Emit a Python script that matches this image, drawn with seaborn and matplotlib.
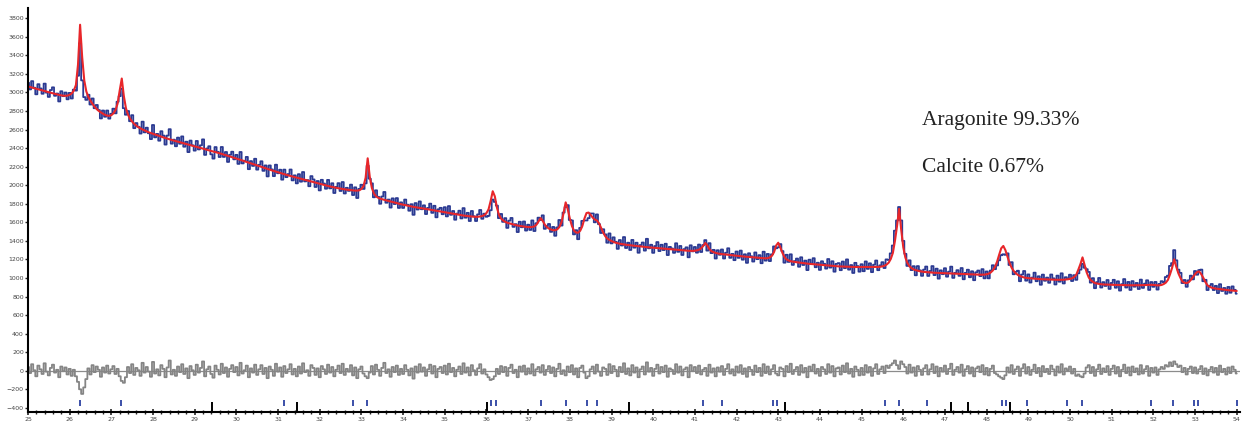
import numpy as np
import pandas as pd
import matplotlib
matplotlib.use("Agg")
import matplotlib.pyplot as plt
import seaborn as sns

# scan 25-54 deg 2theta, step 0.05
two_theta = np.round(np.linspace(25.0, 54.0, 581), 2)

# calculated (fitted) pattern (rows of 0.5 deg)
calc = [
    3065, 3058, 3052, 3046, 3040, 3034, 3028, 3021, 3015, 3008,
    3002, 2996, 2990, 2984, 2978, 2973, 2968, 2965, 2964, 2966,
    2975, 2990, 3020, 3080, 3300, 3730, 3380, 3130, 3010, 2950,
    2910, 2875, 2845, 2820, 2800, 2785, 2770, 2758, 2750, 2748,
    2755, 2775, 2810, 2880, 3020, 3150, 2960, 2830, 2760, 2715,
    2685, 2660, 2640, 2625, 2612, 2600, 2590, 2580, 2570, 2562,
    2554, 2546, 2538, 2530, 2522, 2515, 2508, 2500, 2494, 2488,
    2481, 2475, 2468, 2462, 2456, 2450, 2444, 2437, 2431, 2425,
    2418, 2412, 2406, 2400, 2394, 2387, 2381, 2375, 2368, 2362,
    2356, 2350, 2344, 2337, 2330, 2323, 2316, 2308, 2301, 2294,
    2287, 2280, 2273, 2265, 2258, 2250, 2243, 2235, 2228, 2220,
    2213, 2205, 2198, 2190, 2183, 2175, 2168, 2160, 2153, 2146,
    2139, 2132, 2125, 2118, 2112, 2105, 2099, 2092, 2086, 2080,
    2074, 2068, 2062, 2056, 2050, 2044, 2038, 2032, 2026, 2020,
    2014, 2008, 2003, 1997, 1992, 1986, 1981, 1976, 1972, 1967,
    1963, 1959, 1956, 1952, 1949, 1946, 1944, 1942, 1942, 1945,
    1960, 1990, 2080, 2290, 2090, 1970, 1910, 1880, 1865, 1855,
    1848, 1842, 1836, 1830, 1824, 1818, 1812, 1806, 1800, 1795,
    1790, 1785, 1780, 1775, 1770, 1766, 1762, 1758, 1755, 1751,
    1748, 1744, 1740, 1736, 1732, 1728, 1724, 1720, 1716, 1712,
    1708, 1704, 1700, 1696, 1692, 1688, 1684, 1680, 1677, 1673,
    1670, 1667, 1664, 1662, 1660, 1659, 1660, 1663, 1668, 1678,
    1700, 1740, 1830, 1935, 1880, 1760, 1680, 1640, 1620, 1605,
    1595, 1588, 1582, 1576, 1570, 1565, 1561, 1557, 1554, 1551,
    1549, 1548, 1550, 1556, 1575, 1610, 1645, 1615, 1575, 1548,
    1532, 1522, 1515, 1515, 1525, 1550, 1600, 1700, 1815, 1740,
    1640, 1560, 1510, 1490, 1488, 1510, 1560, 1640, 1700, 1705,
    1680, 1650, 1630, 1620, 1590, 1540, 1490, 1450, 1425, 1410,
    1398, 1388, 1380, 1374, 1369, 1365, 1361, 1358, 1355, 1352,
    1350, 1347, 1345, 1342, 1340, 1337, 1335, 1332, 1330, 1328,
    1326, 1324, 1322, 1320, 1318, 1316, 1314, 1312, 1310, 1308,
    1306, 1304, 1302, 1300, 1298, 1296, 1295, 1293, 1292, 1292,
    1294, 1298, 1305, 1320, 1345, 1378, 1350, 1310, 1288, 1278,
    1270, 1264, 1260, 1257, 1255, 1252, 1250, 1247, 1245, 1242,
    1240, 1237, 1235, 1232, 1230, 1228, 1226, 1224, 1222, 1220,
    1218, 1216, 1214, 1213, 1212, 1214, 1222, 1240, 1280, 1350,
    1380, 1330, 1270, 1225, 1200, 1188, 1180, 1176, 1172, 1169,
    1166, 1163, 1160, 1157, 1155, 1152, 1150, 1148, 1146, 1144,
    1142, 1140, 1138, 1136, 1134, 1132, 1130, 1128, 1127, 1125,
    1124, 1122, 1121, 1120, 1120, 1119, 1119, 1118, 1118, 1118,
    1118, 1118, 1118, 1118, 1118, 1118, 1118, 1118, 1119, 1121,
    1125, 1132, 1145, 1165, 1205, 1270, 1400, 1560, 1745, 1520,
    1330, 1220, 1160, 1125, 1105, 1092, 1084, 1078, 1072, 1068,
    1065, 1063, 1062, 1060, 1058, 1056, 1055, 1053, 1052, 1051,
    1050, 1049, 1048, 1047, 1046, 1045, 1044, 1043, 1042, 1041,
    1040, 1039, 1038, 1037, 1036, 1036, 1035, 1035, 1035, 1036,
    1040, 1046, 1060, 1082, 1120, 1175, 1250, 1320, 1345, 1300,
    1230, 1160, 1110, 1075, 1050, 1033, 1020, 1012, 1005, 1001,
    998, 996, 994, 992, 990, 988, 987, 986, 985, 984,
    983, 982, 981, 980, 980, 980, 980, 981, 983, 986,
    990, 997, 1010, 1035, 1090, 1150, 1222, 1140, 1060, 1005,
    975, 958, 945, 940, 935, 932, 930, 929, 928, 927,
    926, 925, 925, 924, 924, 923, 923, 922, 922, 921,
    921, 921, 921, 921, 922, 923, 924, 925, 926, 926,
    925, 922, 920, 921, 925, 935, 950, 980, 1040, 1110,
    1200, 1120, 1050, 1000, 960, 948, 945, 955, 980, 1010,
    1040, 1065, 1070, 1040, 1000, 955, 920, 905, 895, 890,
    885, 882, 878, 875, 872, 870, 868, 866, 864, 862,
    860,
]

# difference curve (obs - calc)
resid = [
    40, -25, 70, 5, -60, 55, 15, -35, 80, -10,
    -50, 30, 65, -20, 10, -70, 45, -5, 35, -40,
    20, -55, 10, -60, -120, -200, -250, -180, -90, 25,
    -40, 60, -15, 45, 10, -65, 35, -20, 55, -30,
    15, 50, -35, 20, -60, -110, -130, -70, 40, -25,
    70, -45, 30, 5, -55, 85, -20, 40, -10, -65,
    95, -30, 15, -50, 60, 20, -70, 35, 110, -40,
    10, -55, 45, -15, 70, -35, 25, -80, 50, 5,
    -45, 65, -20, 30, 100, -60, 15, 45, -35, -75,
    55, 10, -40, 75, -25, 35, -65, 20, 60, -15,
    40, -50, 85, -30, 5, 55, -70, 25, -20, 65,
    -45, 15, 60, -35, 30, -80, 45, 10, -55, 75,
    -10, 35, -65, 50, -25, 15, 70, -40, 20, -60,
    45, -30, 80, -15, 5, -55, 60, 30, -45, 25,
    -70, 50, 15, -35, 65, -20, 40, -60, 10, 55,
    -25, 75, -45, 20, -10, 60, -50, 35, -80, 15,
    45, -30, -60, -80, -20, 50, -40, 65, 10, -55,
    30, 85, -25, 15, -65, 40, -15, 55, -45, 20,
    -35, 60, 10, -50, 25, -85, 45, -20, 70, -10,
    35, -55, 15, 65, -30, 50, -70, 20, 40, -25,
    55, -40, 75, -15, 30, -60, 10, 45, -35, 80,
    -20, 35, -50, 60, 5, -45, 25, 70, -30, 15,
    -40, -70, -100, -90, -60, 20, -35, 50, -15, 40,
    -55, 30, 65, -25, 10, -70, 45, -10, 55, -40,
    25, -30, 70, -50, 15, 40, -20, 60, -45, 10,
    50, -25, 35, -60, 20, 75, -35, 5, -50, 45,
    -15, 60, -40, 25, -70, 30, 55, -20, -80, -60,
    15, 45, -30, 65, -10, -55, 35, 20, -45, 70,
    -25, 50, 10, -60, 40, -15, 80, -35, 25, -50,
    60, -20, 35, -70, 15, 45, -40, 90, -10, 30,
    -55, 20, 65, -30, 40, -15, 55, -65, 25, 10,
    -35, 70, -20, 45, -50, 15, 35, -70, 60, -5,
    40, -25, 55, -40, 10, 30, -55, 65, -20, 25,
    -60, 35, -10, 50, -45, 20, 70, -30, 15, -50,
    45, -20, 60, -35, 25, -65, 40, 10, -45, 55,
    -15, 30, -55, 70, -25, 45, -40, 15, 60, -30,
    -50, 35, 20, -60, 50, -15, 75, -35, 10, 40,
    -45, 60, -20, 30, -70, 45, 5, 65, -30, 20,
    -55, 40, 15, -35, 70, -20, 50, -60, 25, 35,
    -40, 55, -15, 80, -30, 20, -65, 45, 10, -50,
    30, -45, 60, -20, 40, -55, 25, 70, -35, 15,
    45, -25, 55, 30, 60, 80, 110, 60, 20, 100,
    70, 40, -30, 65, -20, 35, -55, 50, 10, -45,
    25, 60, -40, 15, 70, -25, 45, -60, 30, -10,
    55, -35, 20, 75, -45, 10, 40, -20, 65, -55,
    15, 50, -30, 35, -60, 25, 45, -15, 60, -40,
    30, -50, 20, 55, -25, -40, -60, -75, -90, -50,
    35, -20, 60, -35, 15, 45, -55, 25, 70, -30,
    40, -45, 10, 65, -25, 30, -60, 50, -15, 20,
    -35, 55, 15, -50, 45, -20, 70, -40, 25, 5,
    45, -30, 20, -55, -40, -60, -70, -30, 35, 60,
    -25, 40, -55, 15, 65, -35, 25, -15, 50, -45,
    20, 55, -30, 40, -60, 10, 65, -25, 35, -50,
    45, -15, 25, -40, 60, -30, 15, 50, -55, 30,
    -20, 35, -45, 15, 40, 20, 60, 45, 90, 50,
    100, 70, 40, 55, -15, 30, -40, 20, 45, -25,
    35, -30, 15, 50, -35, 25, -50, 10, 40, -20,
    30, -45, 55, -15, 20, -40, 35, -25, 45, 10,
    -30,
]

# reflection markers
aragonite_pos = [26.24, 27.23, 31.15, 32.79, 33.14, 36.12, 36.22, 37.30, 37.91,
                 38.41, 38.65, 41.19, 41.65, 42.87, 42.96, 45.56, 45.89, 46.57,
                 48.37, 48.47, 48.96, 49.93, 50.28, 51.94, 52.47, 52.98, 53.08, 54.00]
calcite_pos = [29.42, 31.46, 36.02, 39.43, 43.17, 47.15, 47.55, 48.55]

phase_labels = ["Aragonite 99.33%", "Calcite 0.67%"]

df = pd.DataFrame({"two_theta": two_theta, "calc": calc, "resid": resid})
df["obs"] = df["calc"] + df["resid"]

sns.set_style("white")
plt.rcParams["font.family"] = ["DejaVu Sans"]

fig = plt.figure(figsize=(12.44, 4.23), dpi=100)
ax = fig.add_axes([0.0225, 0.026, 0.974, 0.955])

sns.lineplot(data=df, x="two_theta", y="obs", ax=ax, color="#2b3a92",
             lw=1.3, drawstyle="steps-mid", estimator=None)
sns.lineplot(data=df, x="two_theta", y="calc", ax=ax, color="#e8262a",
             lw=1.5, estimator=None)
ax.axhline(0, color="#8c8c8c", lw=0.9)
sns.lineplot(data=df, x="two_theta", y="resid", ax=ax, color="#858585",
             lw=1.3, drawstyle="steps-mid", estimator=None)

ybot = -445
ax.vlines(aragonite_pos, -385, -320, color="#3b4fa8", lw=1.4)
ax.vlines(calcite_pos, ybot, -340, color="black", lw=1.4)

ax.text(46.45, 2700, phase_labels[0], family="Liberation Serif", fontsize=15.5,
        color="#222222", va="center")
ax.text(46.45, 2195, phase_labels[1], family="Liberation Serif", fontsize=15.5,
        color="#222222", va="center")

ax.set_xlim(25, 54.07)
ax.set_ylim(ybot, 3910)
ax.set_xticks(np.arange(25, 55, 1))
ax.set_xticks(np.arange(25, 54.01, 0.2), minor=True)
ax.set_yticks(np.arange(-400, 3801, 200))
ax.tick_params(axis="both", labelsize=4.5, labelcolor="#444444", pad=1)
ax.tick_params(axis="x", which="major", direction="inout", length=5, width=1.2)
ax.tick_params(axis="x", which="minor", direction="inout", length=3, width=1.0)
ax.tick_params(axis="y", direction="out", length=2, width=1.0)
ax.xaxis.set_ticks_position("bottom")
ax.yaxis.set_ticks_position("left")
ax.set_xlabel("")
ax.set_ylabel("")
for s in ["top", "right"]:
    ax.spines[s].set_visible(False)
for s in ["left", "bottom"]:
    ax.spines[s].set_color("black")
    ax.spines[s].set_linewidth(1.5)

fig.savefig("out.png", dpi=100)
